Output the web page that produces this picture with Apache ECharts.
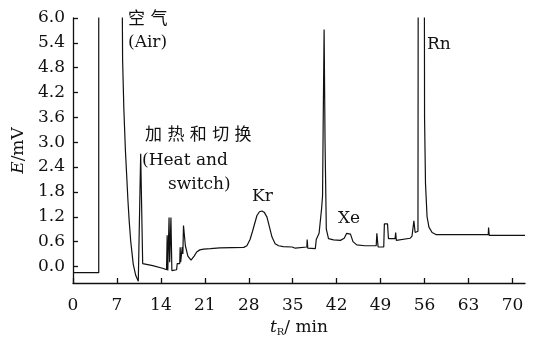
<!DOCTYPE html>
<html>
<head>
<meta charset="utf-8">
<script src="https://cdn.jsdelivr.net/npm/echarts@6/dist/echarts.min.js"></script>
<style>
html, body { margin: 0; padding: 0; background: #fff; }
#chart { width: 536px; height: 337px; }
</style>
</head>
<body>
<div id="chart"></div>
<script>
// retention time (min) and detector signal (mV); 9 = off-scale peak top
var retentionTime = [
  0, 4.1, 4.1, 7.75, 7.9, 8.1, 8.35, 8.55, 8.75, 8.95, 9.2, 9.6, 10.0, 10.4, 10.7,
  10.78, 11.1, 12.7, 14.4, 14.9, 15.0, 15.1, 15.3, 15.4, 15.5, 15.6, 15.75, 16.5,
  16.6, 17.0, 17.07, 17.15, 17.4, 17.5, 17.6, 17.75, 17.9, 18.3, 18.8, 19.3, 19.7,
  20.2, 20.5, 20.8, 21.9, 23.4, 27.2, 27.7, 28.2, 28.6, 29.3, 29.7, 30.1, 30.5,
  30.9, 31.3, 31.7, 32.2, 32.75, 33.5, 34.9, 35.0, 35.2, 35.4, 35.5, 37.25, 37.3,
  37.4, 38.6, 38.75, 39.2, 39.6, 39.75, 39.85, 40.0, 40.15, 40.35, 40.7, 41.5,
  42.6, 43.2, 43.6, 43.9, 44.2, 44.6, 45.2, 46.5, 48.3, 48.4, 48.6, 49.5, 49.6,
  50.1, 50.25, 51.3, 51.4, 51.5, 53.7, 54.0, 54.3, 54.5, 54.95, 55.0, 55.95, 56.0,
  56.15, 56.4, 56.7, 57.2, 57.8, 66.15, 66.2, 66.3, 72
];
var signalMv = [
  -0.15, -0.15, 9, 9, 5.0, 3.8, 2.8, 2.2, 1.6, 1.1, 0.6, 0.05, -0.22, -0.36, -0.4,
  2.72, 0.07, 0.02, -0.05, -0.08, 0.75, -0.1, 1.18, 0.1, 0.6, 1.18, -0.1, -0.08,
  0.07, 0.07, 0.46, 0.1, 0.47, 0.3, 0.99, 0.99, 0.5, 0.25, 0.15, 0.25, 0.35,
  0.40, 0.36, 0.42, 0.43, 0.45, 0.46, 0.5, 0.65, 0.85, 1.23, 1.32, 1.34, 1.3,
  1.19, 0.95, 0.71, 0.55, 0.5, 0.48, 0.47, 0.44, 0.47, 0.44, 0.47, 0.47, 0.65,
  0.44, 0.43, 0.65, 0.8, 1.4, 1.7, 3.4, 5.72, 3.0, 0.9, 0.67, 0.64,
  0.63, 0.68, 0.8, 0.82, 0.78, 0.6, 0.52, 0.5, 0.5, 0.8, 0.47, 0.47, 1.03,
  1.03, 0.67, 0.67, 0.82, 0.63, 0.68, 0.73, 1.1, 0.82, 0.85, 9, 9, 3.6,
  2.0, 1.2, 0.95, 0.82, 0.77, 0.77, 0.94, 0.75, 0.75
];
var xTicks = [0, 7, 14, 21, 28, 35, 42, 49, 56, 63, 70];
var yTicks = [0.0, 0.6, 1.2, 1.8, 2.4, 3.0, 3.6, 4.2, 4.8, 5.4, 6.0];

var serif = '"DejaVu Serif", "Noto Sans CJK SC", serif';
var ink = '#111';

var points = retentionTime.map(function (t, i) { return [t, signalMv[i]]; });

function note(text, x, y, size) {
  return {
    type: 'text', x: x, y: y, silent: true,
    style: { text: text, fill: ink, font: (size || 17) + 'px ' + serif, textVerticalAlign: 'middle' }
  };
}

var chart = echarts.init(document.getElementById('chart'));
chart.setOption({
  animation: false,
  backgroundColor: '#fff',
  grid: { left: 73, right: 11, top: 18, bottom: 54, outerBoundsMode: 'none', containLabel: false },
  xAxis: {
    type: 'value', min: 0, max: 72,
    name: '{i|t}{sub|R}{n|/ min}',
    nameLocation: 'middle', nameGap: 33,
    nameTextStyle: {
      rich: {
        i: { fontFamily: serif, fontSize: 17, fontStyle: 'italic', color: ink, lineHeight: 20, verticalAlign: 'middle' },
        sub: { fontFamily: serif, fontSize: 10, color: ink, lineHeight: 10, verticalAlign: 'bottom' },
        n: { fontFamily: serif, fontSize: 17, color: ink, lineHeight: 20, verticalAlign: 'middle' }
      }
    },
    splitLine: { show: false },
    axisLine: { onZero: false, lineStyle: { color: ink, width: 1.3 } },
    axisTick: { inside: true, length: 5, customValues: xTicks, lineStyle: { color: ink, width: 1.3 } },
    axisLabel: { customValues: xTicks, margin: 14, color: ink, fontFamily: serif, fontSize: 17 }
  },
  yAxis: {
    type: 'value', min: -0.4, max: 6.0,
    name: '{i|E}/mV',
    nameLocation: 'middle', nameGap: 45, nameRotate: 90,
    nameTextStyle: {
      rich: {
        i: { fontFamily: serif, fontSize: 17, fontStyle: 'italic', color: ink },
        n: { fontFamily: serif, fontSize: 17, color: ink }
      },
      fontFamily: serif, fontSize: 17, color: ink
    },
    splitLine: { show: false },
    axisLine: { show: true, onZero: false, lineStyle: { color: ink, width: 1.3 } },
    axisTick: { show: true, inside: true, length: 5, customValues: yTicks, lineStyle: { color: ink, width: 1.3 } },
    axisLabel: {
      customValues: yTicks, margin: 8, color: ink, fontFamily: serif, fontSize: 17,
      formatter: function (v) { return v.toFixed(1); }
    }
  },
  series: [{
    type: 'line',
    data: points,
    symbol: 'none',
    clip: true,
    lineStyle: { color: ink, width: 1.2 }
  }],
  graphic: [
    note('空 气', 128, 20),
    note('(Air)', 128, 43),
    note('加 热 和 切 换', 145, 136),
    note('(Heat and', 142, 161),
    note('switch)', 168, 185),
    note('Kr', 252, 197),
    note('Xe', 338, 219),
    note('Rn', 427, 45)
  ]
});
</script>
</body>
</html>
